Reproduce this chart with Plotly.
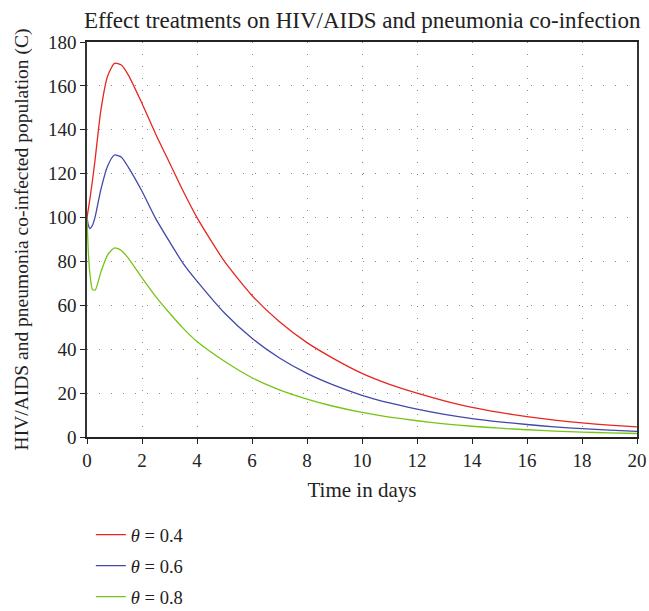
import plotly.graph_objects as go

time = [0, 0.05, 0.1, 0.2, 0.3, 0.5, 0.75, 1.0, 1.25, 1.5, 2, 2.5, 3, 3.5, 4,
        5, 6, 7, 8, 9, 10, 11, 12, 13, 14, 15, 16, 17, 18, 19, 20]

theta_04 = [100, 104, 108, 117, 127, 148.5, 164.5, 170.3, 169.5, 165, 152, 138, 125, 112, 100,
            80, 64.5, 52.5, 43, 35.5, 29, 24, 20, 16.5, 13.5, 11.2, 9.3, 7.7, 6.4, 5.4, 4.6]
theta_06 = [100, 96.5, 95, 96.5, 100.5, 112.5, 123.5, 128.5, 127.5, 123, 112, 99.5, 89, 79, 71,
            56.5, 45, 36, 29, 23.5, 19, 15.5, 12.7, 10.3, 8.4, 6.9, 5.7, 4.6, 3.8, 3.1, 2.6]
theta_08 = [100, 84, 75, 67.2, 67.0, 75, 83, 86.2, 85, 81.5, 72.5, 64, 56.5, 49.5, 43.5,
            34.5, 27, 21.5, 17.3, 13.9, 11.2, 9.1, 7.4, 6.0, 4.9, 4.0, 3.3, 2.7, 2.2, 1.9, 1.6]

labels = ["<i>θ</i> = 0.4", "<i>θ</i> = 0.6", "<i>θ</i> = 0.8"]
colors = ["#e5271f", "#4148aa", "#76c414"]
series = [theta_04, theta_06, theta_08]

x_ticks = list(range(0, 21, 2))
y_ticks = list(range(0, 181, 20))

FONT = "Liberation Serif, Times New Roman, serif"

fig = go.Figure()
for i, (lab, col, ys) in enumerate(zip(labels, colors, series)):
    fig.add_trace(go.Scatter(
        x=time, y=ys, mode="lines", name=lab,
        line=dict(color=col, width=1.3, shape="spline", smoothing=0.6),
        legendgroup=f"g{i}",
    ))

fig.update_layout(
    width=649, height=611,
    margin=dict(l=87, r=12, t=42, b=174, autoexpand=False),
    paper_bgcolor="white", plot_bgcolor="white",
    font=dict(family=FONT, size=19, color="#222"),
    title=dict(text="Effect treatments on HIV/AIDS and pneumonia co-infection",
               x=0.558, xanchor="center", y=0.967, yanchor="middle",
               font=dict(family=FONT, size=23, color="#222")),
    showlegend=True,
    legend=dict(x=0.007, y=-0.2, yanchor="top", xanchor="left",
                font=dict(family=FONT, size=18.5, color="#222"),
                tracegroupgap=4, bgcolor="rgba(0,0,0,0)"),
)

fig.update_xaxes(
    range=[0, 20], tickvals=x_ticks, ticktext=[str(v) for v in x_ticks],
    showline=True, linecolor="#222", linewidth=1.5, mirror=True,
    ticks="outside", ticklen=5, tickcolor="#222", tickwidth=1.2,
    showgrid=True, gridcolor="#888", gridwidth=1, griddash="1px,11px",
    zeroline=False,
    title=dict(text="Time in days", standoff=13, font=dict(family=FONT, size=21)),
    tickfont=dict(family=FONT, size=19),
)
fig.update_yaxes(
    range=[0, 180], tickvals=y_ticks, ticktext=[str(v) for v in y_ticks],
    showline=True, linecolor="#333", linewidth=1.6, mirror=True,
    ticks="outside", ticklen=5, tickcolor="#222", tickwidth=1.2,
    showgrid=True, gridcolor="#888", gridwidth=1, griddash="1px,11px",
    zeroline=False,
    title=dict(text="HIV/AIDS and pneumonia co-infected population (C)", standoff=14,
               font=dict(family=FONT, size=19.5)),
    tickfont=dict(family=FONT, size=19),
)

fig.write_html("out.html")
